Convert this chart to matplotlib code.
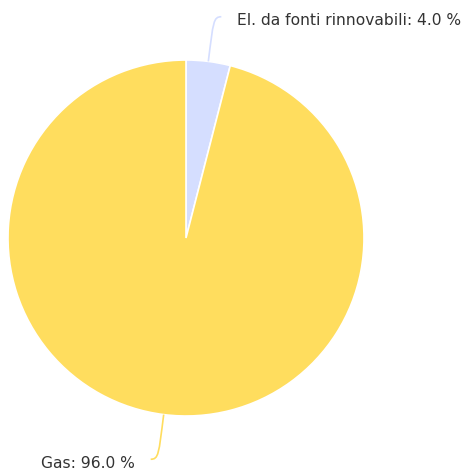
import numpy as np
import matplotlib
matplotlib.use('Agg')
import matplotlib.pyplot as plt
from matplotlib.path import Path
from matplotlib.patches import PathPatch

# ==[0] Data
labels = ['El. da fonti rinnovabili', 'Gas']
shares = [4.0, 96.0]
colors = ['#d5deff', '#ffdd5e']

# ==[1] Figure in pixel coords (y up)
W, H = 466, 472
fig = plt.figure(figsize=(W / 100, H / 100), dpi=100)
ax = fig.add_axes([0, 0, 1, 1])
ax.axis('off')

cx, cy, R = 186, H - 238, 178
wedges, _ = ax.pie(shares, colors=colors, startangle=90, counterclock=False,
                   center=(cx, cy), radius=R,
                   wedgeprops=dict(edgecolor='white', linewidth=1.2))
ax.set_xlim(0, W)
ax.set_ylim(0, H)
ax.set_aspect('equal')

# ==[2] Connectors + labels
for w, lab, val, col in zip(wedges, labels, shares, colors):
    mid = np.deg2rad((w.theta1 + w.theta2) / 2)
    dx, dy = np.cos(mid), np.sin(mid)
    p0 = (cx + R * dx, cy + R * dy)
    side = 1 if dx > 0 else -1
    p1 = (p0[0] + 40 * dx, p0[1] + 40 * dy)
    p3 = (p1[0] + side * 8, p1[1] + dy * 5)
    p2 = (p1[0], p3[1])
    path = Path([p0, p1, p2, p3], [Path.MOVETO, Path.CURVE4, Path.CURVE4, Path.CURVE4])
    ax.add_patch(PathPatch(path, fill=False, edgecolor=col, lw=1.2))
    tx = p3[0] + side * 16
    ty = p3[1] - 4
    ax.text(tx, ty, f'{lab}: {val:.1f} %', ha='left' if side > 0 else 'right',
            va='center', fontsize=11.2, color='#333333', family='DejaVu Sans')

fig.savefig('out.png', dpi=100)
